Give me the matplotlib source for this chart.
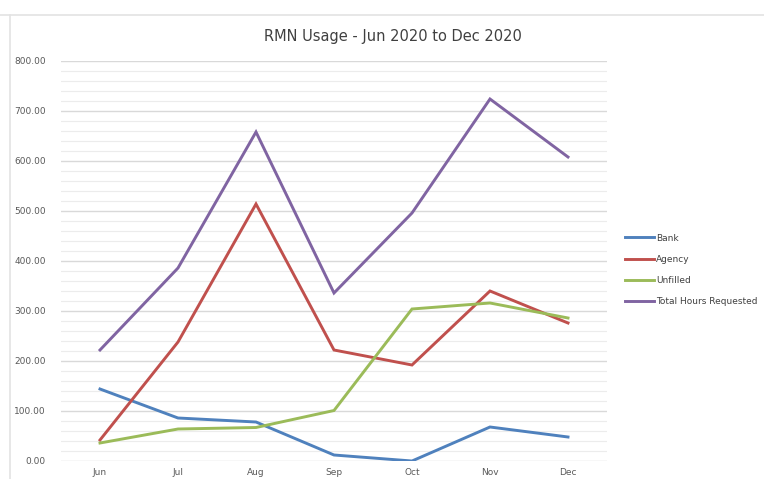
import matplotlib
matplotlib.use("Agg")
import matplotlib.pyplot as plt
from matplotlib.lines import Line2D
import numpy as np

months = ["Jun", "Jul", "Aug", "Sep", "Oct", "Nov", "Dec"]
bank = [144, 86, 78, 12, 0, 68, 48]
agency = [42, 238, 514, 222, 192, 340, 276]
unfilled = [36, 64, 67, 101, 304, 316, 286]
total = [222, 386, 658, 336, 496, 724, 608]
series_names = ["Bank", "Agency", "Unfilled", "Total Hours Requested"]
colors = ["#4F81BD", "#C0504D", "#9BBB59", "#8064A2"]

W, H = 764, 479
fig = plt.figure(figsize=(W / 100, H / 100), dpi=100)
ax = fig.add_axes([61 / W, 1 - 461 / H, (607 - 61) / W, (461 - 61) / H])

x = np.arange(len(months))
for vals, name, c in zip([bank, agency, unfilled, total], series_names, colors):
    ax.plot(x, vals, color=c, lw=2.1, label=name, solid_joinstyle="miter")

ax.set_xlim(-0.5, len(months) - 0.5)
ax.set_ylim(0, 800)
ax.set_yticks(np.arange(0, 801, 100))
ax.set_yticks(np.arange(0, 801, 20), minor=True)
ax.set_yticklabels([f"{v:.2f}" for v in np.arange(0, 801, 100)])
ax.set_xticks(x)
ax.set_xticklabels(months)
ax.grid(axis="y", which="major", color="#d9d9d9", lw=1.0)
ax.grid(axis="y", which="minor", color="#ececec", lw=0.8)
ax.set_axisbelow(True)
for s in ax.spines.values():
    s.set_visible(False)
ax.tick_params(axis="both", which="both", length=0, labelsize=6.5, labelcolor="#595959")
ax.tick_params(axis="y", pad=11)
ax.tick_params(axis="x", pad=5)

fig.text(393 / W, 1 - 37 / H, "RMN Usage - Jun 2020 to Dec 2020", ha="center", va="center",
         fontsize=10.5, color="#404040")

leg = fig.legend(loc="upper left", bbox_to_anchor=(621 / W, 1 - 230 / H), frameon=False,
                 fontsize=6.5, handlelength=3.2, handletextpad=0.3, labelspacing=1.35,
                 labelcolor="#404040", borderaxespad=0)

fig.add_artist(Line2D([0, 1], [1 - 15 / H, 1 - 15 / H], color="#e3e3e3", lw=1.2,
                      transform=fig.transFigure))
fig.add_artist(Line2D([10 / W, 10 / W], [0, 1 - 15 / H], color="#e3e3e3", lw=1.2,
                      transform=fig.transFigure))

fig.savefig("out.png", dpi=100, facecolor="white")
